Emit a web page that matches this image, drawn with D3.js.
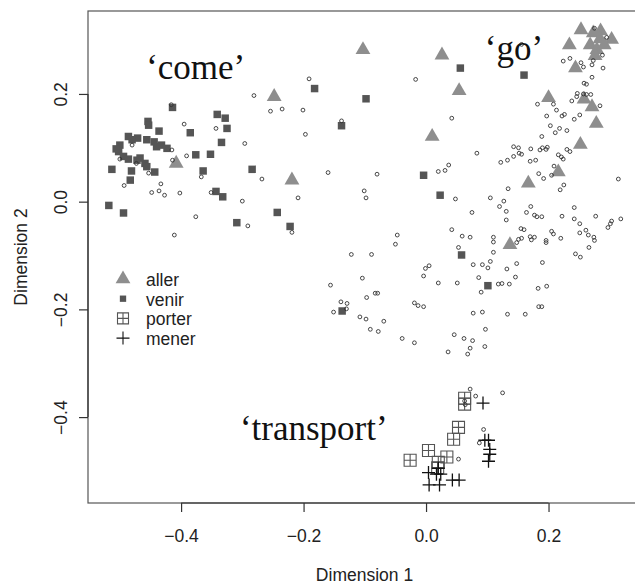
<!DOCTYPE html>
<html>
<head>
<meta charset="utf-8">
<script src="https://cdn.jsdelivr.net/npm/d3@7"></script>
<style>
    body { margin: 0; background: #fff; }
    text { font-family: "Liberation Sans", Arial, sans-serif; }
    text.gloss { font-family: "Liberation Serif", "Times New Roman", serif; }
</style>
</head>
<body>
<div id="chart"></div>
<script>
// other verbs (small open circles)
const others = [
    [-0.191, 0.228], [-0.281, 0.197], [-0.254, 0.168], [-0.235, 0.172], [-0.201, 0.170], [-0.197, 0.125],
    [-0.296, 0.108], [-0.343, 0.136], [-0.395, 0.144], [-0.416, 0.180], [-0.391, 0.085], [-0.414, 0.077],
    [-0.367, 0.046], [-0.268, 0.042], [-0.209, 0.007], [-0.300, 0.001], [-0.291, -0.045], [-0.376, -0.028],
    [-0.411, -0.062], [-0.402, 0.016], [-0.448, 0.017], [-0.436, 0.020], [-0.433, 0.033], [-0.427, 0.012],
    [-0.493, 0.030], [-0.453, 0.053], [-0.351, 0.017], [-0.219, -0.057], [-0.480, 0.105], [-0.500, 0.079],
    [-0.473, 0.071], [-0.415, 0.096], [-0.017, 0.227], [0.042, 0.155], [-0.138, 0.150], [0.083, 0.090],
    [-0.160, 0.054], [-0.080, 0.051], [-0.101, 0.020], [-0.098, 0.007], [0.020, 0.056], [0.031, 0.058],
    [0.037, 0.068], [0.048, 0.005], [0.075, -0.020], [0.042, -0.052], [0.059, -0.064], [0.072, -0.066],
    [0.053, -0.085], [-0.047, -0.062], [-0.050, -0.079], [-0.089, -0.098], [-0.122, -0.098], [-0.104, -0.142],
    [-0.156, -0.155], [-0.097, -0.178], [-0.083, -0.170], [-0.079, -0.170], [-0.139, -0.186], [-0.129, -0.189],
    [-0.130, -0.199], [-0.151, -0.205], [-0.108, -0.214], [-0.098, -0.218], [-0.069, -0.222], [-0.091, -0.237],
    [-0.078, -0.241], [-0.039, -0.254], [-0.019, -0.262], [-0.019, -0.188], [-0.013, -0.193], [-0.004, -0.195],
    [-0.004, -0.138], [-0.001, -0.124], [0.005, -0.119], [0.020, -0.151], [0.051, -0.151], [0.077, -0.117],
    [0.077, -0.207], [0.046, -0.247], [0.062, -0.254], [0.076, -0.258], [0.072, -0.272], [0.036, -0.279],
    [0.068, -0.283], [0.092, -0.205], [0.097, -0.237], [0.096, -0.269], [0.156, 0.292], [0.105, 0.007],
    [0.134, 0.024], [0.120, -0.009], [0.127, 0.001], [0.131, -0.018], [0.131, -0.034], [0.110, -0.066],
    [0.110, -0.075], [0.110, -0.094], [0.092, -0.117], [0.101, -0.123], [0.105, -0.111], [0.132, -0.125],
    [0.148, -0.115], [0.146, -0.140], [0.136, -0.153], [0.124, -0.152], [0.118, -0.153], [0.086, -0.141],
    [0.090, -0.168], [0.183, -0.161], [0.197, -0.157], [0.190, -0.113], [0.151, -0.070], [0.156, -0.068],
    [0.170, -0.065], [0.177, -0.066], [0.172, -0.071], [0.196, -0.072], [0.196, -0.076], [0.205, -0.055],
    [0.208, -0.060], [0.220, -0.068], [0.244, -0.097], [0.252, -0.103], [0.266, -0.085], [0.274, -0.066],
    [0.275, -0.072], [0.251, -0.058], [0.261, -0.053], [0.265, -0.062], [0.242, -0.011], [0.242, -0.032],
    [0.251, -0.041], [0.277, -0.027], [0.222, -0.027], [0.189, -0.028], [0.181, -0.028], [0.177, -0.025],
    [0.164, -0.020], [0.171, -0.009], [0.155, -0.050], [0.160, -0.052], [0.297, -0.048], [0.301, -0.041],
    [0.303, -0.036], [0.318, -0.032], [0.314, 0.042], [0.219, 0.022], [0.225, 0.031], [0.205, 0.049],
    [0.184, 0.052], [0.192, 0.043], [0.209, 0.066], [0.170, 0.075], [0.179, 0.077], [0.143, 0.102],
    [0.151, 0.100], [0.152, 0.090], [0.156, 0.088], [0.143, 0.084], [0.133, 0.077], [0.122, 0.073],
    [0.171, 0.098], [0.186, 0.096], [0.190, 0.100], [0.196, 0.097], [0.198, 0.101], [0.216, 0.087],
    [0.221, 0.083], [0.224, 0.079], [0.230, 0.097], [0.235, 0.093], [0.189, 0.121], [0.203, 0.141],
    [0.211, 0.128], [0.218, 0.136], [0.230, 0.132], [0.197, 0.159], [0.213, 0.170], [0.222, 0.159],
    [0.226, 0.162], [0.242, 0.153], [0.251, 0.161], [0.182, 0.181], [0.208, 0.181], [0.238, 0.187],
    [0.246, 0.195], [0.247, 0.201], [0.257, 0.200], [0.262, 0.199], [0.269, 0.199], [0.284, 0.178],
    [0.258, 0.220], [0.262, 0.218], [0.271, 0.231], [0.289, 0.248], [0.224, 0.261], [0.235, 0.266],
    [0.253, 0.258], [0.257, 0.250], [0.271, 0.254], [0.273, 0.262], [0.288, 0.272], [0.275, 0.322],
    [0.295, 0.305], [0.184, -0.195], [0.189, -0.195], [0.133, -0.209], [0.162, -0.209], [0.072, -0.348],
    [0.081, -0.361], [0.125, -0.355], [0.094, -0.423], [0.087, -0.448], [0.053, -0.478], [0.148, -0.076],
    [0.063, -0.370], [0.064, -0.377]
];

const aller = [
    [-0.103, 0.282], [0.026, 0.272], [0.054, 0.206], [0.010, 0.121], [-0.248, 0.195], [-0.219, 0.040],
    [-0.408, 0.071], [0.200, 0.193], [0.258, 0.190], [0.271, 0.176], [0.278, 0.145], [0.252, 0.106],
    [0.216, 0.055], [0.167, 0.034], [0.137, -0.080], [0.253, 0.319], [0.234, 0.291], [0.244, 0.248],
    [0.273, 0.313], [0.285, 0.317], [0.303, 0.301], [0.268, 0.291], [0.279, 0.282], [0.291, 0.291],
    [0.276, 0.271], [0.284, 0.302]
];

const venir = [
    [-0.414, 0.175], [-0.454, 0.149], [-0.453, 0.142], [-0.436, 0.131], [-0.385, 0.128], [-0.341, 0.162],
    [-0.328, 0.155], [-0.325, 0.136], [-0.334, 0.110], [-0.376, 0.087], [-0.352, 0.088], [-0.364, 0.057],
    [-0.284, 0.060], [-0.343, 0.019], [-0.332, 0.009], [-0.309, -0.039], [-0.518, -0.007], [-0.494, -0.021],
    [-0.513, 0.060], [-0.481, 0.057], [-0.483, 0.040], [-0.443, 0.055], [-0.486, 0.121], [-0.471, 0.118],
    [-0.456, 0.115], [-0.444, 0.111], [-0.432, 0.105], [-0.423, 0.099], [-0.500, 0.105], [-0.502, 0.093],
    [-0.494, 0.084], [-0.486, 0.079], [-0.472, 0.077], [-0.459, 0.071], [-0.456, 0.065], [-0.440, 0.102],
    [-0.506, 0.098], [-0.467, 0.081], [-0.480, 0.115], [-0.243, -0.020], [-0.222, -0.046], [-0.182, 0.210],
    [-0.098, 0.191], [-0.138, 0.141], [0.056, 0.248], [0.160, 0.235], [-0.004, 0.049], [0.023, 0.012],
    [0.058, -0.099], [0.101, -0.156], [-0.137, -0.203]
];

const porter = [
    [-0.026, -0.480], [0.004, -0.462], [0.020, -0.484], [0.019, -0.494], [0.034, -0.474], [0.045, -0.441],
    [0.053, -0.419], [0.063, -0.365], [0.063, -0.376]
];

const mener = [
    [0.093, -0.374], [0.096, -0.443], [0.102, -0.443], [0.104, -0.460], [0.104, -0.469], [0.102, -0.482],
    [0.004, -0.503], [0.017, -0.506], [0.024, -0.506], [0.020, -0.495], [0.005, -0.526], [0.022, -0.526],
    [0.043, -0.517], [0.054, -0.517]
];

const xTicks = [-0.4, -0.2, 0.0, 0.2];
const yTicks = [-0.4, -0.2, 0.0, 0.2];
const legendLabels = ['aller', 'venir', 'porter', 'mener'];
const glosses = [
    { text: '\u2018come\u2019', x: -0.457, y: 0.228 },
    { text: '\u2018go\u2019', x: 0.096, y: 0.263 },
    { text: '\u2018transport\u2019', x: -0.304, y: -0.443 }
];

const width = 635;
const height = 585;

const svg = d3.select('#chart').append('svg')
    .attr('width', width)
    .attr('height', height);

const x = d3.scaleLinear().domain([-0.552, 0.351]).range([88, 641]);
const y = d3.scaleLinear().domain([-0.5595, 0.354]).range([503, 11]);

const triPath = d3.symbol().type(d3.symbolTriangle).size(95)();
const sqPath = d3.symbol().type(d3.symbolSquare).size(56)();
const boxPlus = 'M-6,-6H6V6H-6Z M-6,0H6 M0,-6V6';
const plus = 'M-6.5,0H6.5 M0,-6.5V6.5';

const plot = svg.append('g');

plot.selectAll('.aller')
    .data(aller)
    .enter().append('path')
    .attr('d', triPath)
    .attr('transform', d => `translate(${x(d[0])},${y(d[1])})`)
    .attr('fill', '#8e8e8e');

plot.selectAll('.venir')
    .data(venir)
    .enter().append('path')
    .attr('d', sqPath)
    .attr('transform', d => `translate(${x(d[0])},${y(d[1])})`)
    .attr('fill', '#555');

plot.selectAll('.porter')
    .data(porter)
    .enter().append('path')
    .attr('d', boxPlus)
    .attr('transform', d => `translate(${x(d[0])},${y(d[1])})`)
    .attr('fill', 'none')
    .attr('stroke', '#555')
    .attr('stroke-width', 1.1);

plot.selectAll('.mener')
    .data(mener)
    .enter().append('path')
    .attr('d', plus)
    .attr('transform', d => `translate(${x(d[0])},${y(d[1])})`)
    .attr('fill', 'none')
    .attr('stroke', '#111')
    .attr('stroke-width', 1.3);

plot.selectAll('circle')
    .data(others)
    .enter().append('circle')
    .attr('cx', d => x(d[0]))
    .attr('cy', d => y(d[1]))
    .attr('r', 1.9)
    .attr('fill', 'none')
    .attr('stroke', '#333')
    .attr('stroke-width', 0.9);

// frame
svg.append('rect')
    .attr('x', 88)
    .attr('y', 11)
    .attr('width', 641 - 88)
    .attr('height', 503 - 11)
    .attr('fill', 'none')
    .attr('stroke', '#555')
    .attr('stroke-width', 1.2);

// axes, R style: line only between the outer ticks
const xAxis = svg.append('g')
    .attr('transform', 'translate(0,503)')
    .call(d3.axisBottom(x).tickValues(xTicks).tickSize(9).tickPadding(18).tickFormat(d3.format('.1f')));
xAxis.select('.domain')
    .attr('d', `M${x(xTicks[0])},0H${x(xTicks[xTicks.length - 1])}`);

const yAxis = svg.append('g')
    .attr('transform', 'translate(88,0)')
    .call(d3.axisLeft(y).tickValues(yTicks).tickSize(9).tickFormat(d3.format('.1f')));
yAxis.select('.domain')
    .attr('d', `M0,${y(yTicks[0])}V${y(yTicks[yTicks.length - 1])}`);

svg.selectAll('.domain, .tick line').attr('stroke', '#333').attr('stroke-width', 1.2);

xAxis.selectAll('text')
    .attr('font-size', 17.5)
    .attr('fill', '#222')
    .attr('font-family', null);

yAxis.selectAll('text')
    .attr('font-size', 17.5)
    .attr('fill', '#222')
    .attr('font-family', null)
    .attr('x', 0)
    .attr('dy', 0)
    .attr('text-anchor', 'middle')
    .attr('transform', 'translate(-21,0) rotate(-90)');

svg.append('text')
    .attr('x', (88 + 641) / 2)
    .attr('y', 581)
    .attr('text-anchor', 'middle')
    .attr('font-size', 17.5)
    .attr('fill', '#222')
    .text('Dimension 1');

svg.append('text')
    .attr('transform', `translate(27,${(11 + 503) / 2}) rotate(-90)`)
    .attr('text-anchor', 'middle')
    .attr('font-size', 17.5)
    .attr('fill', '#222')
    .text('Dimension 2');

// glosses
svg.selectAll('.gloss')
    .data(glosses)
    .enter().append('text')
    .attr('class', 'gloss')
    .attr('x', d => x(d.x))
    .attr('y', d => y(d.y))
    .attr('font-size', 35)
    .attr('fill', '#111')
    .text(d => d.text);

// legend
const legend = svg.append('g').attr('transform', 'translate(123,279)');
const legendRow = 19.7;
const legendMarks = [
    { d: triPath, fill: '#8e8e8e', stroke: 'none', sw: 0 },
    { d: d3.symbol().type(d3.symbolSquare).size(40)(), fill: '#555', stroke: 'none', sw: 0 },
    { d: 'M-5.5,-5.5H5.5V5.5H-5.5Z M-5.5,0H5.5 M0,-5.5V5.5', fill: 'none', stroke: '#555', sw: 1.1 },
    { d: plus, fill: 'none', stroke: '#111', sw: 1.1 }
];

legendLabels.forEach((label, i) => {
    const row = legend.append('g').attr('transform', `translate(0,${i * legendRow})`);
    row.append('path')
        .attr('d', legendMarks[i].d)
        .attr('fill', legendMarks[i].fill)
        .attr('stroke', legendMarks[i].stroke)
        .attr('stroke-width', legendMarks[i].sw);
    row.append('text')
        .attr('x', 23)
        .attr('y', 7)
        .attr('font-size', 17.5)
        .attr('fill', '#222')
        .text(label);
});
</script>
</body>
</html>
